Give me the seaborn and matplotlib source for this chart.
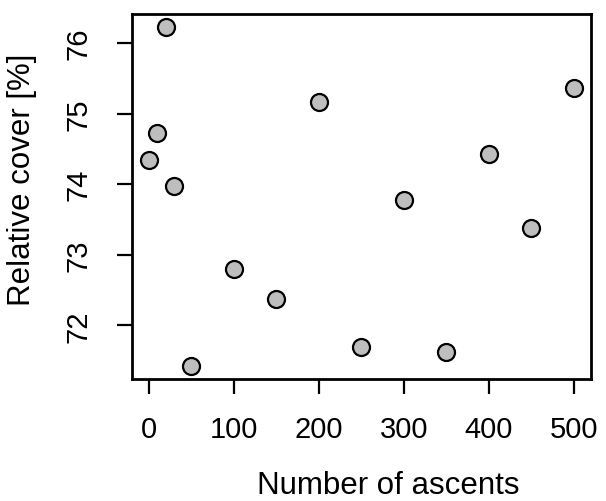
import numpy as np
import pandas as pd
import seaborn as sns
import matplotlib
matplotlib.use('Agg')
import matplotlib.pyplot as plt

# values
ascents = [0, 10, 20, 30, 50, 100, 150, 200, 250, 300, 350, 400, 450, 500]
cover = [74.34, 74.72, 76.22, 73.97, 71.43, 72.80, 72.37, 75.17, 71.69, 73.77, 71.62, 74.43, 73.38, 75.36]
x_ticks = [0, 100, 200, 300, 400, 500]
y_ticks = [72, 73, 74, 75, 76]

df = pd.DataFrame({'ascents': ascents, 'cover': cover})

sns.set_style('white')
plt.rcParams['font.family'] = ['Liberation Sans', 'DejaVu Sans']
plt.rcParams['text.color'] = 'black'
plt.rcParams['axes.labelcolor'] = 'black'
plt.rcParams['xtick.color'] = 'black'
plt.rcParams['ytick.color'] = 'black'

fig = plt.figure(figsize=(6.06, 5.02), dpi=100)
ax = fig.add_axes([0.2173, 0.243, 0.7575, 0.727])

sns.scatterplot(x='ascents', y='cover', data=df, ax=ax, color='#bebebe',
                edgecolor='black', linewidth=1.6, s=150, zorder=3)

ax.set_xlim(-20, 520)
ax.set_ylim(71.24, 76.41)
ax.set_xticks(x_ticks)
ax.set_yticks(y_ticks)
ax.set_yticklabels([str(v) for v in y_ticks], rotation=90, va='center')

for sp in ax.spines.values():
    sp.set_visible(True)
    sp.set_color('black')
    sp.set_linewidth(2)

ax.tick_params(axis='both', direction='out', length=11, width=1.6,
               color='black', labelcolor='black', labelsize=21, left=True, bottom=True)
ax.tick_params(axis='x', pad=15)
ax.tick_params(axis='y', pad=17)

ax.set_xlabel('Number of ascents', fontsize=22.5, labelpad=19, x=0.558)
ax.set_ylabel('Relative cover [%]', fontsize=22.5, labelpad=20, y=0.548)

fig.savefig('out.png', dpi=100)
